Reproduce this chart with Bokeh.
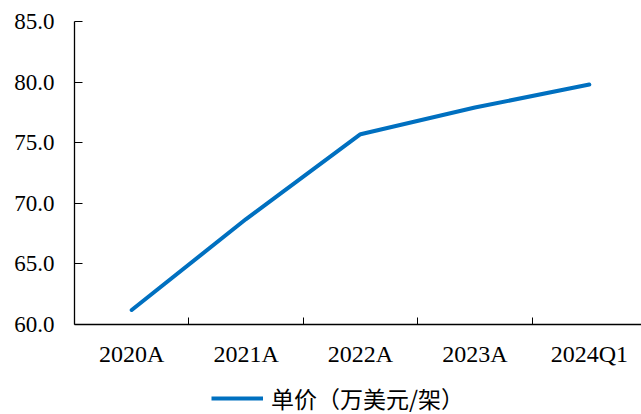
from bokeh.plotting import figure
from bokeh.layouts import column
from bokeh.models import (Range1d, FixedTicker, PrintfTickFormatter, Legend, LegendItem,
                          ColumnDataSource)
from bokeh.embed import file_html
from bokeh.resources import INLINE

categories = ["2020A", "2021A", "2022A", "2023A", "2024Q1"]
unit_price = [61.2, 68.7, 75.7, 77.9, 79.8]
y_ticks = [60, 65, 70, 75, 80, 85]
legend_label = "单价（万美元/架）"

xs = list(range(len(categories)))
src = ColumnDataSource(dict(x=xs, y=unit_price))

SERIF = "Liberation Serif"
BLUE = "#0070C0"

p = figure(width=641, height=374, output_backend="svg", toolbar_location=None,
           x_range=Range1d(-0.5, 4.456), y_range=Range1d(60, 85),
           min_border_left=74, min_border_right=0, min_border_top=21,
           min_border_bottom=50)
p.outline_line_color = None
p.xgrid.visible = False
p.ygrid.visible = False
p.background_fill_color = "white"
p.border_fill_color = "white"

r = p.line("x", "y", source=src, line_color=BLUE, line_width=4, line_cap="round",
           line_join="round")

# x axis
xa = p.xaxis[0]
xa.ticker = FixedTicker(ticks=xs, minor_ticks=[0.5, 1.5, 2.5, 3.5])
xa.major_label_overrides = {i: c for i, c in enumerate(categories)}
xa.major_tick_in = 0
xa.major_tick_out = 0
xa.minor_tick_in = 7
xa.minor_tick_out = 0
xa.minor_tick_line_color = "black"
xa.axis_line_color = "black"
xa.axis_line_width = 1.3
xa.major_label_text_font = SERIF
xa.major_label_text_font_size = "24px"
xa.major_label_text_color = "black"
xa.major_label_standoff = 16

# y axis
ya = p.yaxis[0]
ya.ticker = FixedTicker(ticks=y_ticks)
ya.formatter = PrintfTickFormatter(format="%.1f")
ya.major_tick_in = 8
ya.major_tick_out = 0
ya.minor_tick_in = 0
ya.minor_tick_out = 0
ya.major_tick_line_color = "black"
ya.axis_line_color = "black"
ya.axis_line_width = 1.3
ya.major_label_text_font = SERIF
ya.major_label_text_font_size = "23px"
ya.major_label_text_color = "black"
ya.major_label_standoff = 20

# legend strip below the chart
p2 = figure(width=641, height=40, output_backend="svg", toolbar_location=None,
            x_range=Range1d(-0.5, 4.456), y_range=Range1d(0, 1),
            x_axis_type=None, y_axis_type=None,
            min_border_left=0, min_border_right=0, min_border_top=0, min_border_bottom=0)
p2.outline_line_color = None
p2.xgrid.visible = False
p2.ygrid.visible = False
p2.border_fill_color = "white"
p2.background_fill_color = "white"
r2 = p2.line("x", "y", source=src, line_color=BLUE, line_width=4)

legend = Legend(items=[LegendItem(label=legend_label, renderers=[r2])],
                location=(137, -1), orientation="horizontal",
                label_text_font="Noto Sans CJK SC", label_text_font_size="23px",
                label_text_color="black", glyph_width=52, glyph_height=20,
                label_standoff=8, padding=0, margin=0,
                border_line_color=None, background_fill_alpha=0)
p2.add_layout(legend, "center")

layout = column(p, p2, spacing=0)
open("out.html", "w").write(file_html(layout, INLINE))
